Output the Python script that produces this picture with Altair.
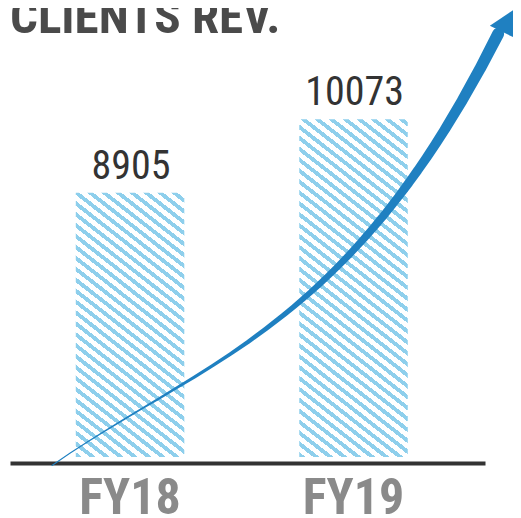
import altair as alt
import pandas as pd

# ---- data ----
title_text = ["CLIENTS REV."]
years = ["FY18", "FY19"]
revenue = [8905, 10073]

# decorative growth arrow, in (fiscal-position, revenue) units
curve_pos = [0.651, 0.897, 1.237, 1.591, 1.819, 1.971, 2.119, 2.221, 2.351, 2.485, 2.566, 2.647]
curve_val = [4605, 5082, 5814, 6720, 7468, 7945, 8423, 8789, 9584, 10380, 10905, 11445]
head_pos = [2.707]
head_val = [11652]

Y_MIN, Y_MAX = 4700, 11000
W, H = 475, 396
PI, PO, AL = 0.5145, 0.32, 0.46

COND = "Roboto Condensed, Liberation Sans, sans-serif"
BLUE = "#1f80c1"
STRIPE = "#8ecfec"

bars_df = pd.DataFrame({"fy": years, "value": revenue})
curve_df = pd.DataFrame({"cx": curve_pos, "cy": curve_val})
head_df = pd.DataFrame({"cx": head_pos, "cy": head_val})
title_df = pd.DataFrame({"t": title_text})

# band geometry (used only to lay out the stripe gradient)
step = W / (len(years) - PI + 2 * PO)
bandw = step * (1 - PI)


def stripes(value, s=0.78, spacing=14.0, duty=0.45):
    w = bandw
    h = (value - Y_MIN) * H / (Y_MAX - Y_MIN)
    k = (s / h + 1 / w) / ((s / h) ** 2 + (1 / w) ** 2)
    x2, y2 = k * s / h, 1 - k / w
    L = w + h / s
    period = spacing / L
    stops = []
    t = 0.0
    while t < 1:
        a = t
        b = min(t + duty * period, 1)
        c = min(t + period, 1)
        stops += [
            alt.GradientStop(offset=a, color=STRIPE),
            alt.GradientStop(offset=b, color=STRIPE),
            alt.GradientStop(offset=b, color="#ffffff"),
            alt.GradientStop(offset=c, color="#ffffff"),
        ]
        t += period
    return alt.LinearGradient(gradient="linear", stops=stops, x1=0, y1=1, x2=x2, y2=y2)


xscale = alt.Scale(domain=years, paddingInner=PI, paddingOuter=PO, align=AL)
yscale = alt.Scale(domain=[Y_MIN, Y_MAX], zero=False, nice=False)

xaxis = alt.Axis(
    title=None, ticks=False, domainWidth=4, domainColor="#333333", offset=6,
    labelFontSize=50, labelFont=COND, labelFontWeight="bold", labelColor="#8a8a8a",
    labelPadding=10, labelAngle=0, grid=False,
)

base = alt.Chart(bars_df)
bar_layers = []
for fy, v in zip(years, revenue):
    bar_layers.append(
        base.transform_filter(alt.datum.fy == fy)
        .mark_bar(fill=stripes(v))
        .encode(
            x=alt.X("fy:N", scale=xscale, axis=xaxis),
            y=alt.Y("value:Q", scale=yscale, axis=None),
            y2=alt.datum(Y_MIN),
        )
    )

labels = base.mark_text(
    dy=-14, dx=1, baseline="alphabetic", fontSize=40, font=COND, color="#333333"
).encode(
    x=alt.X("fy:N", scale=xscale, axis=xaxis),
    y=alt.Y("value:Q", scale=yscale, axis=None),
    text="value:Q",
)

bars_group = alt.layer(*bar_layers, labels)

# plot left/right edges expressed in fiscal-position units (FY18 = 1, FY19 = 2)
cxscale = alt.Scale(domain=[0.4631, 2.5884], nice=False, zero=False)

trail = (
    alt.Chart(curve_df)
    .transform_regression("cx", "cy", method="poly", order=3, extent=[0.651, 2.647])
    .transform_calculate(t="datum.cx - 0.651")
    .mark_trail(color=BLUE)
    .encode(
        x=alt.X("cx:Q", scale=cxscale, axis=None),
        y=alt.Y("cy:Q", scale=yscale, axis=None),
        size=alt.Size("t:Q", scale=alt.Scale(type="pow", exponent=1.5, domain=[0, 2], range=[1, 12]), legend=None),
        order="cx:Q",
    )
)

head = alt.Chart(head_df).mark_point(
    shape="triangle-up", filled=True, color=BLUE, opacity=1, size=1150, angle=26
).encode(
    x=alt.X("cx:Q", scale=cxscale, axis=None),
    y=alt.Y("cy:Q", scale=yscale, axis=None),
)

title = alt.Chart(title_df).mark_text(
    align="left", baseline="alphabetic", fontSize=49, font=COND, fontWeight="bold", color="#4a4a4a"
).encode(x=alt.value(0), y=alt.value(-28), text="t:N")

chart = alt.layer(bars_group, trail, head, title).resolve_scale(x="independent").properties(
    width=W,
    height=H,
    autosize=alt.AutoSizeParams(type="none"),
    padding={"left": 2, "top": 53, "right": 28, "bottom": 61},
).configure_view(stroke=None)

chart.save("out.html", embed_options={"renderer": "svg", "actions": False})
